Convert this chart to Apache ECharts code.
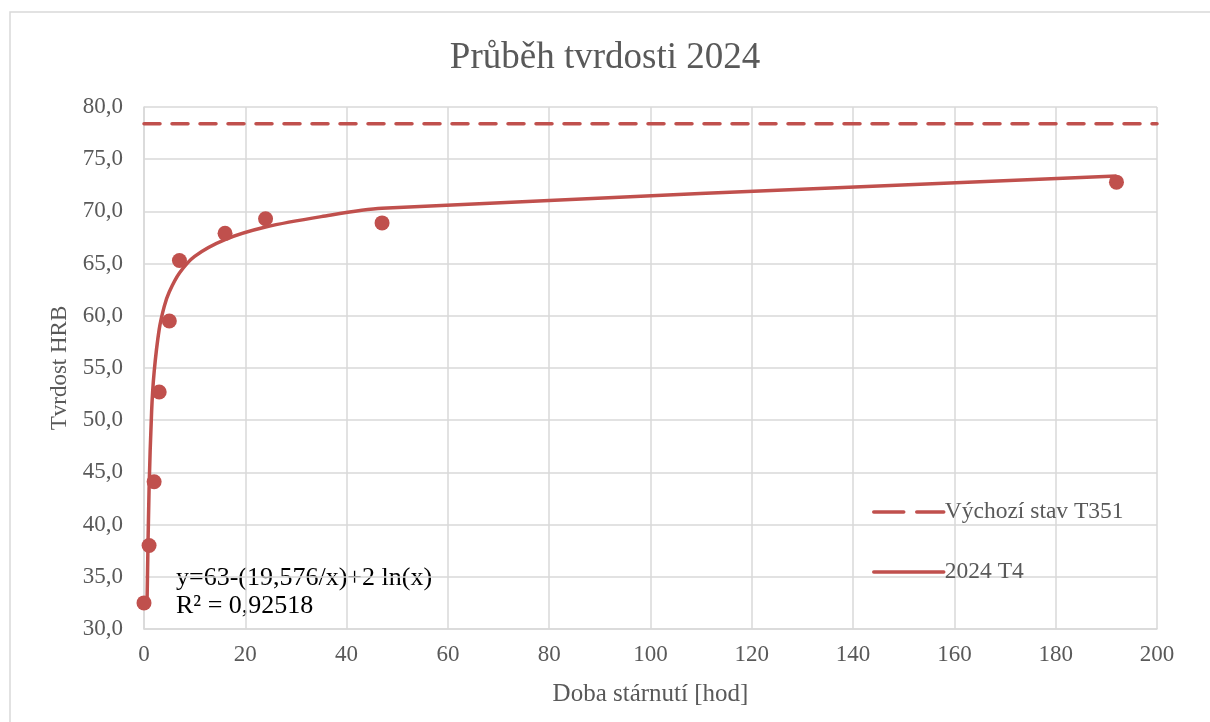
<!DOCTYPE html>
<html>
<head>
<meta charset="utf-8">
<script src="https://cdn.jsdelivr.net/npm/echarts@6/dist/echarts.min.js"></script>
<style>
  html, body { margin: 0; padding: 0; background: #fff; }
  #chart { width: 1210px; height: 722px; }
</style>
</head>
<body>
<div id="chart"></div>
<script>
// namerene body (doba starnuti v hod, tvrdost HRB)
var pointX = [0, 1, 2, 3, 5, 7, 16, 24, 47, 192];
var pointY = [32.5, 38.0, 44.1, 52.7, 59.5, 65.3, 67.9, 69.3, 68.9, 72.8];

// krivka "2024 T4"
var curveX = [0.6, 1, 1.5, 2, 3, 4, 5, 7, 10, 16, 24, 35, 47, 192];
var curveY = [32.5, 43.4, 50.8, 54.6, 58.7, 60.9, 62.3, 64.1, 65.7, 67.3, 68.5, 69.5, 70.3, 73.4];

// vychozi stav T351
var baseX = [0, 200];
var baseY = [78.4, 78.4];

var xTicks = [0, 20, 40, 60, 80, 100, 120, 140, 160, 180, 200];
var yTicks = [30, 35, 40, 45, 50, 55, 60, 65, 70, 75, 80];

var FONT = '"Liberation Serif", "Times New Roman", serif';
var RED = '#C0504D';
var GREY = '#595959';

function pairs(xs, ys) {
  var out = [];
  for (var i = 0; i < xs.length; i++) out.push([xs[i], ys[i]]);
  return out;
}

var myChart = echarts.init(document.getElementById('chart'));

var option = {
  animation: false,
  backgroundColor: '#fff',
  title: {
    text: 'Průběh tvrdosti 2024',
    left: 'center',
    top: 35,
    textStyle: { fontFamily: FONT, fontSize: 37, fontWeight: 'normal', color: GREY }
  },
  grid: { left: 144, right: 53, top: 107, bottom: 93 },
  legend: {
    orient: 'vertical',
    left: 867,
    top: 494,
    itemWidth: 70,
    itemHeight: 14,
    itemGap: 34,
    data: [
      { name: 'Výchozí stav T351', lineStyle: { width: 3.5, type: [30, 13], cap: 'round' } },
      { name: '2024 T4', lineStyle: { width: 3.5, cap: 'round' } }
    ],
    itemStyle: { opacity: 0 },
    lineStyle: { width: 3.5 },
    textStyle: { fontFamily: FONT, fontSize: 23.5, color: GREY, lineHeight: 26, padding: [0, 0, 0, -4] }
  },
  xAxis: {
    type: 'value',
    min: xTicks[0],
    max: xTicks[xTicks.length - 1],
    interval: 20,
    name: 'Doba stárnutí [hod]',
    nameLocation: 'middle',
    nameGap: 53,
    nameTextStyle: { fontFamily: FONT, fontSize: 25, color: GREY },
    axisLine: { show: true, lineStyle: { color: '#d9d9d9', width: 1.5 } },
    axisTick: { show: false },
    axisLabel: { fontFamily: FONT, fontSize: 23, color: GREY, margin: 14 },
    splitLine: { show: true, lineStyle: { color: '#d9d9d9', width: 1.5 } }
  },
  yAxis: {
    type: 'value',
    min: yTicks[0],
    max: yTicks[yTicks.length - 1],
    interval: 5,
    name: 'Tvrdost HRB',
    nameLocation: 'middle',
    nameGap: 70,
    nameTextStyle: { fontFamily: FONT, fontSize: 23, color: GREY },
    axisLine: { show: true, lineStyle: { color: '#d9d9d9', width: 1.5 } },
    axisTick: { show: false },
    axisLabel: {
      fontFamily: FONT, fontSize: 23, color: GREY, margin: 21,
      formatter: function (v) { return v.toFixed(1).replace('.', ','); }
    },
    splitLine: { show: true, lineStyle: { color: '#d9d9d9', width: 1.5 } }
  },
  graphic: [
    {
      type: 'rect',
      silent: true,
      shape: { x: 10, y: 12, width: 1220, height: 730 },
      style: { fill: 'none', stroke: '#d9d9d9', lineWidth: 1.5 }
    },
    {
      type: 'text',
      left: 176,
      top: 564,
      style: {
        text: 'y=63-(19,576/x)+2 ln(x)\nR² = 0,92518',
        font: '26px ' + FONT,
        fill: '#000',
        lineHeight: 28
      }
    }
  ],
  series: [
    {
      name: 'Výchozí stav T351',
      type: 'line',
      data: pairs(baseX, baseY),
      symbol: 'none',
      lineStyle: { color: RED, width: 3.5, type: [16, 12], cap: 'round' },
      itemStyle: { color: RED },
      z: 2
    },
    {
      name: '2024 T4',
      type: 'line',
      data: pairs(curveX, curveY),
      symbol: 'none',
      smooth: 0.3,
      lineStyle: { color: RED, width: 3.5 },
      itemStyle: { color: RED },
      z: 3
    },
    {
      name: 'body',
      type: 'scatter',
      data: pairs(pointX, pointY),
      symbol: 'circle',
      symbolSize: 15,
      itemStyle: { color: RED, opacity: 1 },
      z: 4
    }
  ]
};

option && myChart.setOption(option);
</script>
</body>
</html>
